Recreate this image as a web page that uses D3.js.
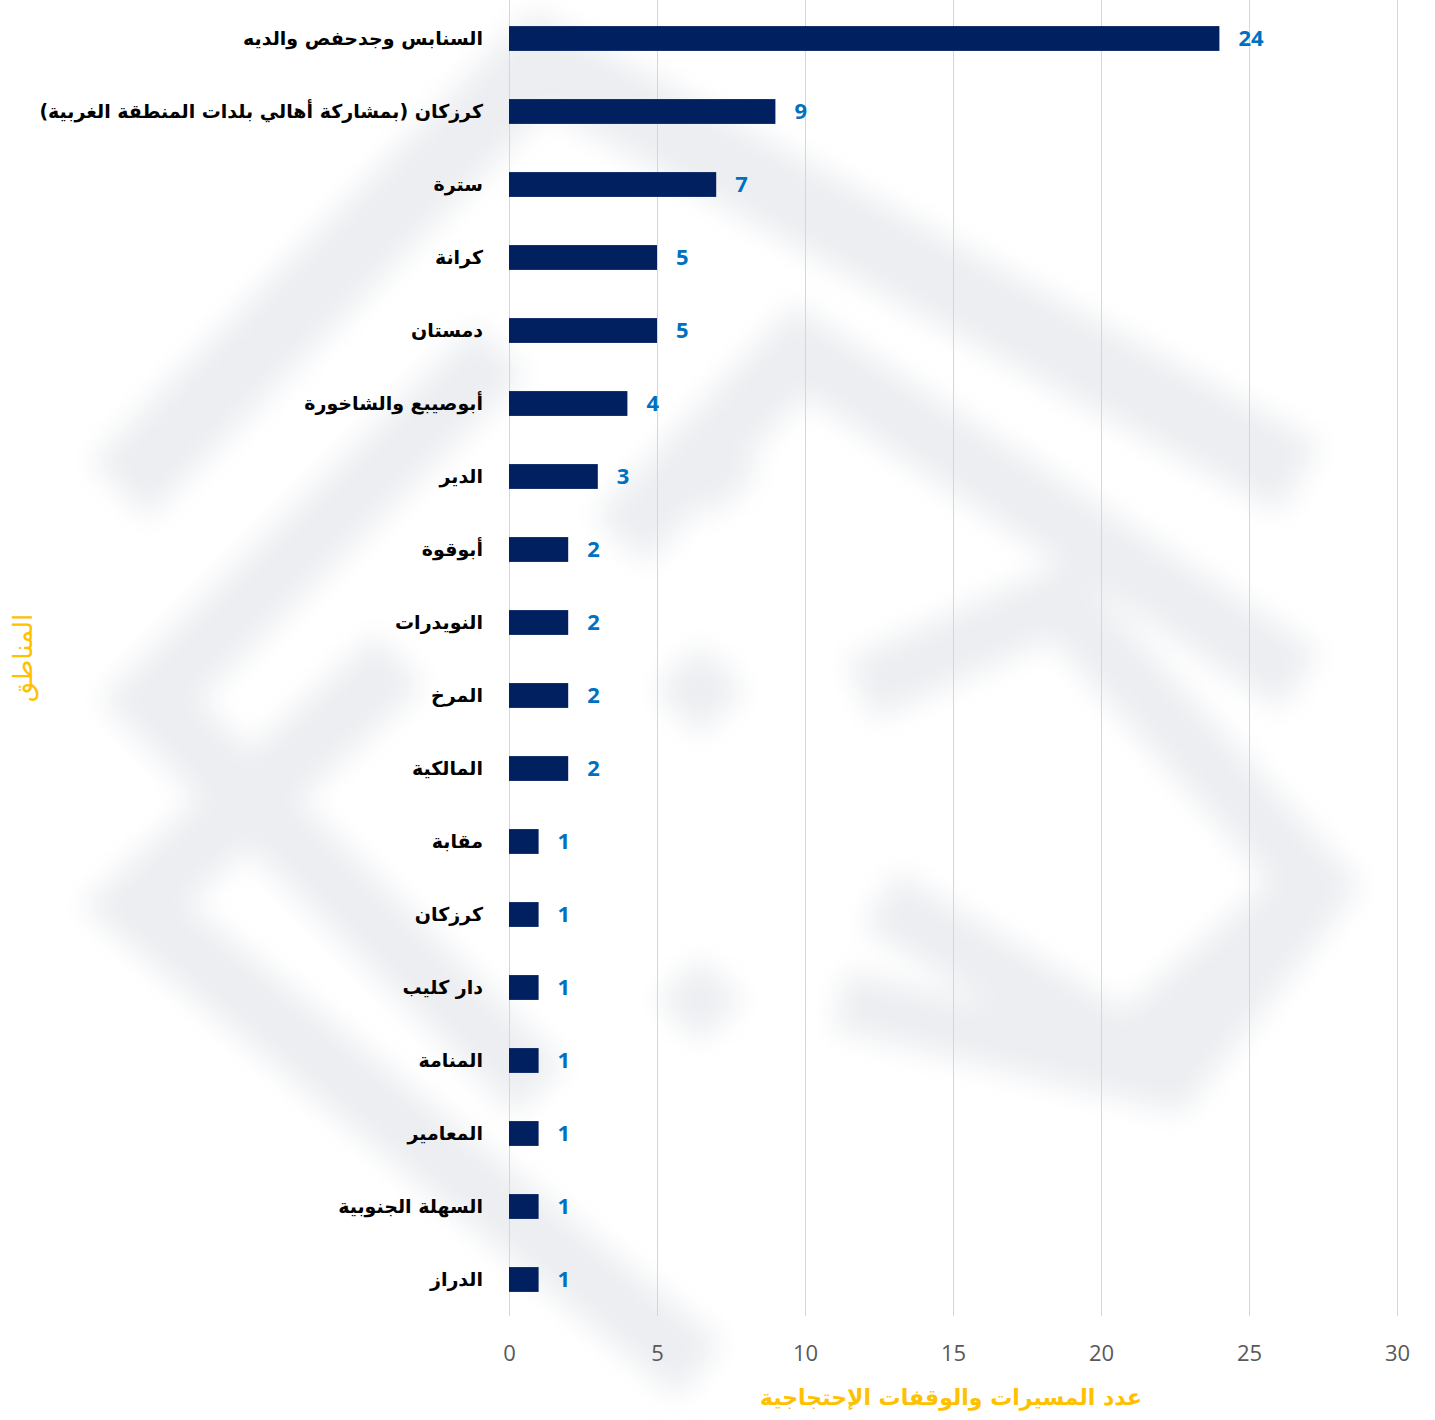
<!DOCTYPE html>
<html>
<head>
<meta charset="utf-8">
<script src="https://cdn.jsdelivr.net/npm/d3@7"></script>
<style>
  html, body { margin: 0; padding: 0; background: #ffffff; }
  svg { display: block; }
</style>
</head>
<body>
<svg id="chart" width="1435" height="1420"></svg>
<script>
const categories = [
  "السنابس وجدحفص والديه",
  "كرزكان (بمشاركة أهالي بلدات المنطقة الغربية)",
  "سترة",
  "كرانة",
  "دمستان",
  "أبوصيبع والشاخورة",
  "الدير",
  "أبوقوة",
  "النويدرات",
  "المرخ",
  "المالكية",
  "مقابة",
  "كرزكان",
  "دار كليب",
  "المنامة",
  "المعامير",
  "السهلة الجنوبية",
  "الدراز"
];
const values = [24, 9, 7, 5, 5, 4, 3, 2, 2, 2, 2, 1, 1, 1, 1, 1, 1, 1];
const xTicks = [0, 5, 10, 15, 20, 25, 30];
const xTitle = "عدد المسيرات والوقفات الإحتجاجية";
const yTitle = "المناطق";

const svg = d3.select("#chart");

// faint background watermark (blurred logo bands)
const defs = svg.append("defs");
defs.append("filter").attr("id", "blur").attr("x", "-20%").attr("y", "-20%").attr("width", "140%").attr("height", "140%")
  .append("feGaussianBlur").attr("stdDeviation", 14);
const wmColor = "#eceef1";
const wm = svg.append("g").attr("filter", "url(#blur)").attr("fill", "none")
  .attr("stroke", wmColor).attr("stroke-linejoin", "miter");
const bands = [
  {pts: [[120,490],[540,60],[1300,478]], w: 80},
  {pts: [[620,540],[800,350],[1300,680]], w: 70},
  {pts: [[500,350],[150,700],[540,1090]], w: 70},
  {pts: [[400,660],[135,905],[700,1370]], w: 70},
  {pts: [[860,690],[1060,600],[1316,884],[1128,1050],[880,900]], w: 65},
  {pts: [[840,1000],[1170,1080],[1320,890]], w: 60}
];
bands.forEach(b => {
  wm.append("path").attr("d", d3.line()(b.pts)).attr("stroke-width", b.w);
});
[[715,470,45],[700,690,45],[700,1000,42]].forEach(([cx,cy,r]) => {
  wm.append("path").attr("d", `M${cx},${cy-r}L${cx+r},${cy}L${cx},${cy+r}L${cx-r},${cy}Z`)
    .attr("fill", wmColor).attr("stroke", "none");
});

const x = d3.scaleLinear().domain([0, 30]).range([509, 1397]);
const y = d3.scaleBand().domain(categories).range([2, 1316]).paddingInner(0.66).paddingOuter(0.33);

// gridlines
svg.append("g").selectAll("line").data(xTicks).join("line")
  .attr("x1", d => x(d) + 0.5).attr("x2", d => x(d) + 0.5)
  .attr("y1", 0).attr("y2", 1316)
  .attr("stroke", "#d4d6dc").attr("stroke-width", 1);

// x axis labels
const xAxis = d3.axisBottom(x).tickValues(xTicks).tickSize(0).tickPadding(0);
const gx = svg.append("g").attr("transform", "translate(0,1348)").call(xAxis);
gx.select(".domain").remove();
gx.selectAll("text").attr("font-family", "'Open Sans', sans-serif").attr("font-size", 22)
  .attr("fill", "#595959").attr("dy", "0.6em");

// y axis labels
const yAxis = d3.axisLeft(y).tickSize(0).tickPadding(26);
const gy = svg.append("g").attr("transform", "translate(509,0)").call(yAxis);
gy.select(".domain").remove();
gy.selectAll("text").attr("font-family", "'DejaVu Sans', sans-serif").attr("font-weight", "bold")
  .attr("font-size", 19).attr("fill", "#000000").attr("direction", "rtl").attr("text-anchor", "start");

// bars
svg.append("g").selectAll("rect").data(values).join("rect")
  .attr("x", x(0)).attr("y", (d, i) => y(categories[i]))
  .attr("width", d => x(d) - x(0)).attr("height", y.bandwidth())
  .attr("fill", "#002060");

// value labels
svg.append("g").selectAll("text").data(values).join("text")
  .attr("x", d => x(d) + 19).attr("y", (d, i) => y(categories[i]) + y.bandwidth() / 2)
  .attr("dy", "0.36em")
  .attr("font-family", "'Open Sans', sans-serif").attr("font-weight", "bold").attr("font-size", 22)
  .attr("fill", "#0070c0").text(d => d);

// axis titles
svg.append("text").attr("x", 951).attr("y", 1405).attr("text-anchor", "middle")
  .attr("direction", "rtl")
  .attr("font-family", "'DejaVu Sans', sans-serif").attr("font-weight", "bold").attr("font-size", 22)
  .attr("fill", "#ffc000").text(xTitle);
svg.append("text").attr("transform", "translate(32,658) rotate(-90)").attr("text-anchor", "middle")
  .attr("direction", "rtl")
  .attr("font-family", "'DejaVu Sans', sans-serif").attr("font-size", 26)
  .attr("fill", "#ffc000").text(yTitle);
</script>
</body>
</html>
